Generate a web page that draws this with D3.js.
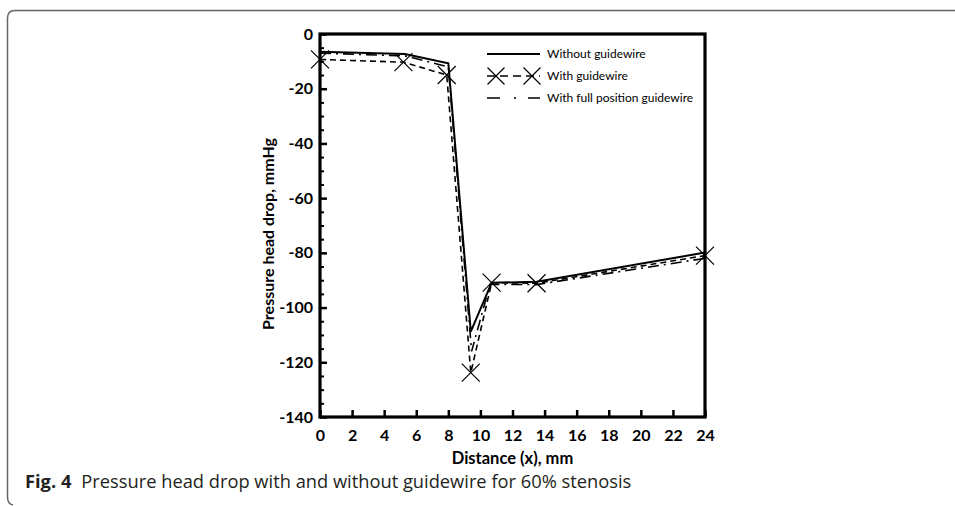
<!DOCTYPE html>
<html>
<head>
<meta charset="utf-8">
<script src="https://cdn.jsdelivr.net/npm/d3@7"></script>
<style>
  body { margin: 0; background: #fff; }
  svg { display: block; }
</style>
</head>
<body>
<div class="chart"></div>
<script>
// values
var xWithout = [0, 5.3, 8, 9.4, 10.7, 13.5, 24];
var yWithout = [-6.5, -7.3, -10.7, -108.8, -90.9, -90.6, -79.9];
var xWith = [0, 5.2, 7.9, 9.4, 10.7, 13.5, 24];
var yWith = [-9.3, -10.3, -15, -123.8, -90.9, -91.1, -81];
var xFull = [0, 5.3, 8, 9.45, 10.6, 13.5, 24];
var yFull = [-7, -8, -12, -116, -91.5, -91.6, -82];
var xTicks = [0, 2, 4, 6, 8, 10, 12, 14, 16, 18, 20, 22, 24];
var yTicks = [-140, -120, -100, -80, -60, -40, -20, 0];
var legendNames = ["Without guidewire", "With guidewire", "With full position guidewire"];

var width = 955, height = 506;
var margin = {left: 320, right: 250, top: 34, bottom: 89};

var svg = d3.select(".chart").append("svg")
	.attr("width", width)
	.attr("height", height);

// outer frame (top + left edges, rounded corners)
svg.append("path")
	.attr("d", "M955,10.5 L15,10.5 Q7.5,10.5 7.5,18 L7.5,497 Q7.5,504 13,505")
	.attr("fill", "none")
	.attr("stroke", "#666")
	.attr("stroke-width", 1.5);

var x = d3.scaleLinear().domain([0, 24]).range([margin.left, width - margin.right]);
var y = d3.scaleLinear().domain([-140, 0]).range([height - margin.bottom, margin.top]);

var tickFont = "Lato, 'DejaVu Sans', sans-serif";

// minor y ticks
svg.append("g")
	.attr("transform", "translate(" + margin.left + ",0)")
	.call(d3.axisLeft(y).tickValues(d3.range(-135, 0, 5).filter(function(d){ return d % 20 != 0; }))
		.tickSize(-4).tickFormat(""))
	.call(function(g){ g.select(".domain").remove(); })
	.selectAll("line").attr("stroke", "#000").attr("stroke-width", 2);

var xAxis = svg.append("g")
	.attr("transform", "translate(0," + y(-140) + ")")
	.call(d3.axisBottom(x).tickValues(xTicks).tickSize(-7).tickPadding(13).tickSizeOuter(0)
		.tickFormat(function(d){ return String(d); }));

var yAxis = svg.append("g")
	.attr("transform", "translate(" + margin.left + ",0)")
	.call(d3.axisLeft(y).tickValues(yTicks).tickSize(-7).tickPadding(7).tickSizeOuter(0)
		.tickFormat(function(d){ return String(d); }));

[xAxis, yAxis].forEach(function(g){
	g.select(".domain").remove();
	g.selectAll("line").attr("stroke", "#000").attr("stroke-width", 2.5);
	g.selectAll("text")
		.attr("fill", "#000")
		.style("font-family", tickFont)
		.style("font-weight", "bold")
		.style("font-size", "16px");
});

// plot box
svg.append("rect")
	.attr("x", x(0))
	.attr("y", y(0))
	.attr("width", x(24) - x(0))
	.attr("height", y(-140) - y(0))
	.attr("fill", "none")
	.attr("stroke", "#000")
	.attr("stroke-width", 3.2);

// axis titles
svg.append("text")
	.attr("x", (x(0) + x(24)) / 2)
	.attr("y", 464)
	.attr("text-anchor", "middle")
	.style("font-family", tickFont)
	.style("font-weight", "bold")
	.style("font-size", "16.5px")
	.text("Distance (x), mm");

svg.append("text")
	.attr("transform", "translate(274,234) rotate(-90)")
	.attr("text-anchor", "middle")
	.style("font-family", tickFont)
	.style("font-weight", "bold")
	.style("font-size", "16px")
	.text("Pressure head drop, mmHg");

var line = d3.line()
	.x(function(d){ return x(d[0]); })
	.y(function(d){ return y(d[1]); });

var seriesWithout = d3.zip(xWithout, yWithout);
var seriesWith = d3.zip(xWith, yWith);
var seriesFull = d3.zip(xFull, yFull);

var styles = [
	{dash: null, width: 2},
	{dash: "6,4", width: 1.6},
	{dash: "11,5,2,5", width: 1.6}
];

svg.append("path").datum(seriesFull)
	.attr("d", line).attr("fill", "none").attr("stroke", "#000")
	.attr("stroke-width", styles[2].width).attr("stroke-dasharray", styles[2].dash);
svg.append("path").datum(seriesWith)
	.attr("d", line).attr("fill", "none").attr("stroke", "#000")
	.attr("stroke-width", styles[1].width).attr("stroke-dasharray", styles[1].dash);
svg.append("path").datum(seriesWithout)
	.attr("d", line).attr("fill", "none").attr("stroke", "#000")
	.attr("stroke-width", styles[0].width);

function cross(sel, r) {
	sel.append("path")
		.attr("d", "M" + (-r) + "," + (-r) + "L" + r + "," + r + "M" + (-r) + "," + r + "L" + r + "," + (-r))
		.attr("stroke", "#000")
		.attr("stroke-width", 1.2)
		.attr("fill", "none");
}

svg.append("g").selectAll("g")
	.data(seriesWith)
	.enter()
	.append("g")
	.attr("transform", function(d){ return "translate(" + x(d[0]) + "," + y(d[1]) + ")"; })
	.each(function(){ cross(d3.select(this), 9); });

// legend
var legend = svg.append("g").attr("transform", "translate(487,54)");
legendNames.forEach(function(name, i){
	var g = legend.append("g").attr("transform", "translate(0," + i * 22 + ")");
	g.append("line")
		.attr("x1", 0).attr("x2", 53).attr("y1", 0).attr("y2", 0)
		.attr("stroke", "#000")
		.attr("stroke-width", styles[i].width)
		.attr("stroke-dasharray", i == 1 ? "8,5" : (i == 2 ? "13,14,2,12" : null));
	if (i == 1) {
		cross(g.append("g").attr("transform", "translate(9,0)"), 8.5);
		cross(g.append("g").attr("transform", "translate(45,0)"), 8.5);
	}
	g.append("text")
		.attr("x", 60)
		.attr("y", 4)
		.style("font-family", "Lato, sans-serif")
		.style("font-size", "12px")
		.text(name);
});

// caption
var cap = svg.append("text")
	.attr("x", 25)
	.attr("y", 488)
	.attr("fill", "#231f20")
	.style("font-family", "'Open Sans', sans-serif")
	.style("font-size", "18.3px");
cap.append("tspan").style("font-weight", "bold").text("Fig. 4");
cap.append("tspan").attr("dx", 10).text("Pressure head drop with and without guidewire for 60% stenosis");
</script>
</body>
</html>
